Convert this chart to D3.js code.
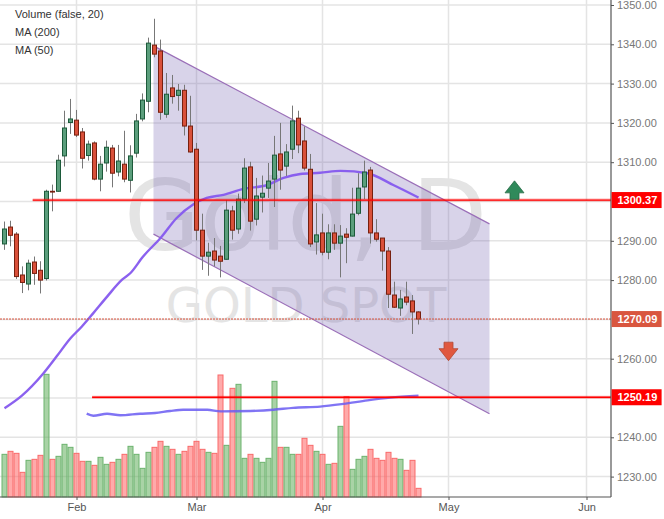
<!DOCTYPE html>
<html><head><meta charset="utf-8">
<script src="https://cdn.jsdelivr.net/npm/d3@7"></script>
<style>html,body{margin:0;padding:0;background:#fff}svg{display:block}text{font-family:"Liberation Sans",Arial,sans-serif}</style>
</head><body><div id="c"></div>
<script>
const openP=[1289.2,1293.5,1291.7,1281.3,1279.0,1284.6,1282.5,1280.4,1302.6,1302.6,1311.6,1320.1,1320.7,1317.7,1311.7,1314.9,1305.7,1309.8,1313.6,1307.5,1309.5,1305.4,1312.3,1321.0,1325.5,1339.8,1338.3,1322.2,1328.9,1327.0,1328.3,1319.2,1313.3,1292.7,1286.1,1287.4,1286.1,1285.3,1297.6,1293.0,1300.6,1308.8,1295.5,1301.1,1303.4,1305.7,1312.1,1309.0,1313.3,1321.2,1315.4,1308.2,1289.7,1292.0,1287.1,1292.0,1289.4,1291.7,1291.2,1297.0,1303.7,1308.0,1292.0,1290.7,1287.4,1276.2,1272.9,1275.7,1274.7,1271.9];
const closeP=[1293.0,1291.4,1280.9,1279.4,1284.3,1281.7,1280.0,1302.6,1302.4,1310.5,1318.7,1321.0,1316.9,1311.0,1314.6,1305.7,1309.5,1313.8,1307.2,1310.3,1305.7,1311.6,1320.5,1325.8,1340.3,1337.5,1322.7,1327.3,1326.7,1328.3,1319.2,1312.6,1292.7,1286.1,1287.1,1285.1,1284.8,1297.8,1292.7,1300.6,1308.5,1295.0,1301.4,1302.1,1305.2,1311.8,1308.0,1312.6,1320.5,1314.4,1308.5,1289.2,1291.5,1287.1,1292.0,1289.4,1291.2,1290.9,1296.8,1303.4,1307.5,1292.0,1290.4,1287.4,1276.4,1273.1,1275.2,1274.4,1271.9,1270.09];
const highP=[1294.9,1295.1,1292.2,1283.5,1285.2,1286.0,1284.8,1303.0,1304.3,1311.9,1323.1,1326.1,1323.3,1318.7,1315.5,1315.3,1311.6,1315.5,1314.4,1314.4,1318.0,1314.3,1322.3,1327.5,1341.7,1346.5,1341.2,1332.7,1332.2,1329.9,1329.7,1326.9,1314.9,1296.9,1289.5,1290.7,1288.7,1300.4,1298.9,1302.0,1311.0,1310.1,1306.0,1306.6,1309.8,1316.7,1320.0,1314.6,1324.4,1323.1,1319.1,1312.1,1299.6,1296.9,1294.2,1294.2,1294.0,1293.2,1303.5,1307.2,1310.4,1308.8,1295.5,1290.7,1288.4,1279.6,1277.5,1279.6,1276.2,1272.1];
const lowP=[1287.7,1288.6,1280.3,1276.7,1277.4,1278.8,1276.6,1279.9,1297.5,1302.5,1308.9,1317.2,1316.4,1308.4,1310.4,1305.4,1302.6,1307.6,1303.6,1306.4,1304.9,1302.3,1311.2,1320.4,1322.7,1336.7,1320.8,1321.3,1324.9,1323.1,1316.8,1312.4,1290.1,1282.6,1281.1,1283.5,1280.7,1285.2,1290.3,1291.8,1299.6,1292.6,1293.9,1297.2,1300.9,1298.6,1303.0,1306.5,1310.8,1312.3,1307.9,1288.4,1286.5,1286.3,1285.3,1287.7,1280.7,1284.3,1291.1,1296.5,1300.6,1289.3,1289.8,1282.4,1272.9,1272.9,1270.9,1273.6,1266.3,1268.7];
const volumes=[128,137,131,74,110,113,125,368,113,122,158,149,131,107,107,95,119,98,104,113,128,152,128,86,134,149,167,152,143,128,137,152,167,143,134,131,366,155,326,338,116,128,116,104,116,347,149,149,128,128,176,155,137,128,98,101,212,301,83,113,122,143,116,110,134,116,113,80,110,26];

const ma50Idx=[0,2.9,6.5,8.7,11,12.9,14.8,17.1,19.6,21,23.1,26,28.7,31.5,33.7,36.5,39.8,43.8,46.5,49.3,52.6,56,60.5,64.8,69];
const ma50Val=[1247.4,1250.6,1256.3,1260.6,1265.2,1268.2,1271.6,1275.8,1280.1,1281.8,1286.0,1290.7,1295.8,1299.3,1300.9,1301.7,1303.2,1304.2,1306.0,1307.0,1307.3,1307.8,1307.2,1304.2,1301.0];
const ma200Idx=[13.7,14.8,17.1,19.3,22.6,25.1,27.6,29.8,33.8,36,41,44.8,48.1,52.6,56.5,60.5,64.3,69];
const ma200Val=[1246.0,1245.5,1246.0,1245.6,1246.0,1246.2,1246.7,1247.0,1247.0,1246.6,1246.7,1247.0,1247.5,1247.8,1248.5,1249.4,1250.1,1250.6];

const channelIdx=[24.83,80.83];
const channelTop=[1339.6,1294.3];
const channelBottom=[1291.7,1246.0];
const priceTicks=[1350,1340,1330,1320,1310,1300,1290,1280,1270,1260,1250,1240,1230];
const taggedTicks=[1300,1270,1250];
const monthIdx=[12,32,53,74,97];
const monthLabels=["Feb","Mar","Apr","May","Jun"];
const legendLabels=["Volume (false, 20)","MA (200)","MA (50)"];
const levels=[{v:1300.37,from:4.7},{v:1250.19,from:14.6}];
const lastPrice=1270.09;
const upArrow={i:85,v:1300.55}, downArrow={i:74,v:1264.2};

const W=664,H=519,axisX=611,baseY=497;
const x=d3.scaleLinear().domain([0,100]).range([4.5,604.5]);
const y=d3.scaleLinear().domain([1350,1230]).range([5,476.6]);
const vol=d3.scaleLinear().domain([0,368]).range([baseY,baseY-122.67]);
const svg=d3.select("#c").append("svg").attr("width",W).attr("height",H);
const idx=d3.range(openP.length);

// grid
const grid=svg.append("g").attr("stroke","#e4e4e4").attr("stroke-width",1.5);
grid.selectAll("line.h").data(priceTicks).join("line").attr("x1",0).attr("x2",axisX).attr("y1",d=>y(d)).attr("y2",d=>y(d));
grid.selectAll("line.v").data(monthIdx).join("line").attr("class","v").attr("x1",d=>x(d)).attr("x2",d=>x(d)).attr("y1",0).attr("y2",baseY);

// watermark
svg.append("text").attr("x",124).attr("y",250).attr("fill","#e4e4e4").style("font-family","DejaVu Sans").style("font-size","98px").text("Gold, D");
svg.append("text").attr("x",306).attr("y",322).attr("text-anchor","middle").attr("fill","#e4e4e4").style("font-family","DejaVu Sans").style("font-size","48px").text("GOLD SPOT");

// channel
const poly=[[channelIdx[0],channelTop[0]],[channelIdx[1],channelTop[1]],[channelIdx[1],channelBottom[1]],[channelIdx[0],channelBottom[0]]];
svg.append("polygon").attr("points",poly.map(p=>[x(p[0]),y(p[1])].join(",")).join(" ")).attr("fill","rgba(104,84,170,0.26)");
[channelTop,channelBottom].forEach(c=>svg.append("line").attr("x1",x(channelIdx[0])).attr("x2",x(channelIdx[1])).attr("y1",y(c[0])).attr("y2",y(c[1])).attr("stroke","#9a6fb8").attr("stroke-width",1.2));

// volume
svg.append("g").selectAll("rect").data(idx).join("rect")
 .attr("x",i=>x(i)-2.5).attr("width",5).attr("y",i=>vol(volumes[i])).attr("height",i=>baseY-vol(volumes[i]))
 .attr("fill",i=>closeP[i]>=openP[i]?"rgba(90,170,85,0.52)":"rgba(255,85,85,0.5)")
 .attr("stroke",i=>closeP[i]>=openP[i]?"#6cb36e":"#f96a6a").attr("stroke-width",1);

// moving averages
const ln=d3.line().x(d=>x(d[0])).y(d=>y(d[1])).curve(d3.curveMonotoneX);
svg.append("path").attr("d",ln(d3.zip(ma200Idx,ma200Val))).attr("fill","none").attr("stroke","#6a5cf2").attr("stroke-width",2.4).attr("opacity",.85);
svg.append("path").attr("d",ln(d3.zip(ma50Idx,ma50Val))).attr("fill","none").attr("stroke","#8558ee").attr("stroke-width",2.4).attr("opacity",.95);

// candles
const cg=svg.append("g");
cg.selectAll("line").data(idx).join("line").attr("x1",i=>x(i)).attr("x2",i=>x(i)).attr("y1",i=>y(highP[i])).attr("y2",i=>y(lowP[i])).attr("stroke","#777").attr("stroke-width",1);
cg.selectAll("rect").data(idx).join("rect")
 .attr("x",i=>x(i)-2).attr("width",4)
 .attr("y",i=>y(Math.max(openP[i],closeP[i])))
 .attr("height",i=>Math.abs(y(openP[i])-y(closeP[i])))
 .attr("fill",i=>closeP[i]>=openP[i]?"#5b9e7c":"#d9503a")
 .attr("stroke",i=>closeP[i]>=openP[i]?"#1c5a3a":"#77200f").attr("stroke-width",1);

// last price and levels
svg.append("line").attr("x1",0).attr("x2",axisX).attr("y1",y(lastPrice)).attr("y2",y(lastPrice)).attr("stroke","#d9533c").attr("stroke-width",1).attr("stroke-dasharray","2,1");
levels.forEach(l=>{
 svg.append("line").attr("x1",x(l.from)).attr("x2",axisX).attr("y1",y(l.v)).attr("y2",y(l.v)).attr("stroke","rgba(255,0,0,.3)").attr("stroke-width",3);
 svg.append("line").attr("x1",x(l.from)).attr("x2",axisX).attr("y1",y(l.v)).attr("y2",y(l.v)).attr("stroke","#f00").attr("stroke-width",1.3);
});

// arrows
const arrow="M0,-18.5L9.5,-6.5L4.5,-6.5L4.5,0L-4.5,0L-4.5,-6.5L-9.5,-6.5Z";
svg.append("path").attr("d",arrow).attr("transform",`translate(${x(upArrow.i)},${y(upArrow.v)})`).attr("fill","#2f8a5b").attr("stroke","#2a6b47").attr("stroke-width",.8);
svg.append("path").attr("d",arrow).attr("transform",`translate(${x(downArrow.i)},${y(downArrow.v)}) rotate(180)`).attr("fill","#e0583f").attr("stroke","#b04a35").attr("stroke-width",.8);

// axes
const ya=svg.append("g").attr("transform",`translate(${axisX},0)`).call(d3.axisRight(y).tickValues(priceTicks.filter(d=>!taggedTicks.includes(d))).tickFormat(d3.format(".2f")).tickSize(3).tickPadding(3));
ya.select(".domain").remove();
ya.selectAll("line").attr("stroke","#555");
ya.selectAll("text").attr("fill","#777").style("font-size","11px");
svg.append("line").attr("x1",axisX).attr("x2",axisX).attr("y1",0).attr("y2",baseY).attr("stroke","#555").attr("stroke-width",1.2);
const xa=svg.append("g").attr("transform",`translate(0,${baseY})`).call(d3.axisBottom(x).tickValues(monthIdx).tickFormat((d,i)=>monthLabels[i]).tickSize(3).tickPadding(3));
xa.select(".domain").remove();
xa.selectAll("line").attr("stroke","#555");
xa.selectAll("text").attr("fill","#555").style("font-size","11px");
svg.append("line").attr("x1",0).attr("x2",axisX).attr("y1",baseY).attr("y2",baseY).attr("stroke","#555").attr("stroke-width",1.2);

// price tags
[{v:1300.37,c:"#f00"},{v:lastPrice,c:"#d9563f"},{v:1250.19,c:"#f00"}].forEach(t=>{
 svg.append("rect").attr("x",axisX+.6).attr("y",y(t.v)-8).attr("width",50).attr("height",16).attr("fill",t.c);
 svg.append("text").attr("x",617.5).attr("y",y(t.v)+4).attr("fill","#fff").style("font-size","11px").style("font-weight","bold").text(d3.format(".2f")(t.v));
});

// legend
svg.append("g").selectAll("text").data(legendLabels).join("text").attr("x",15).attr("y",(d,i)=>18+18*i).attr("fill","#333").style("font-size","11px").text(d=>d);
</script></body></html>
